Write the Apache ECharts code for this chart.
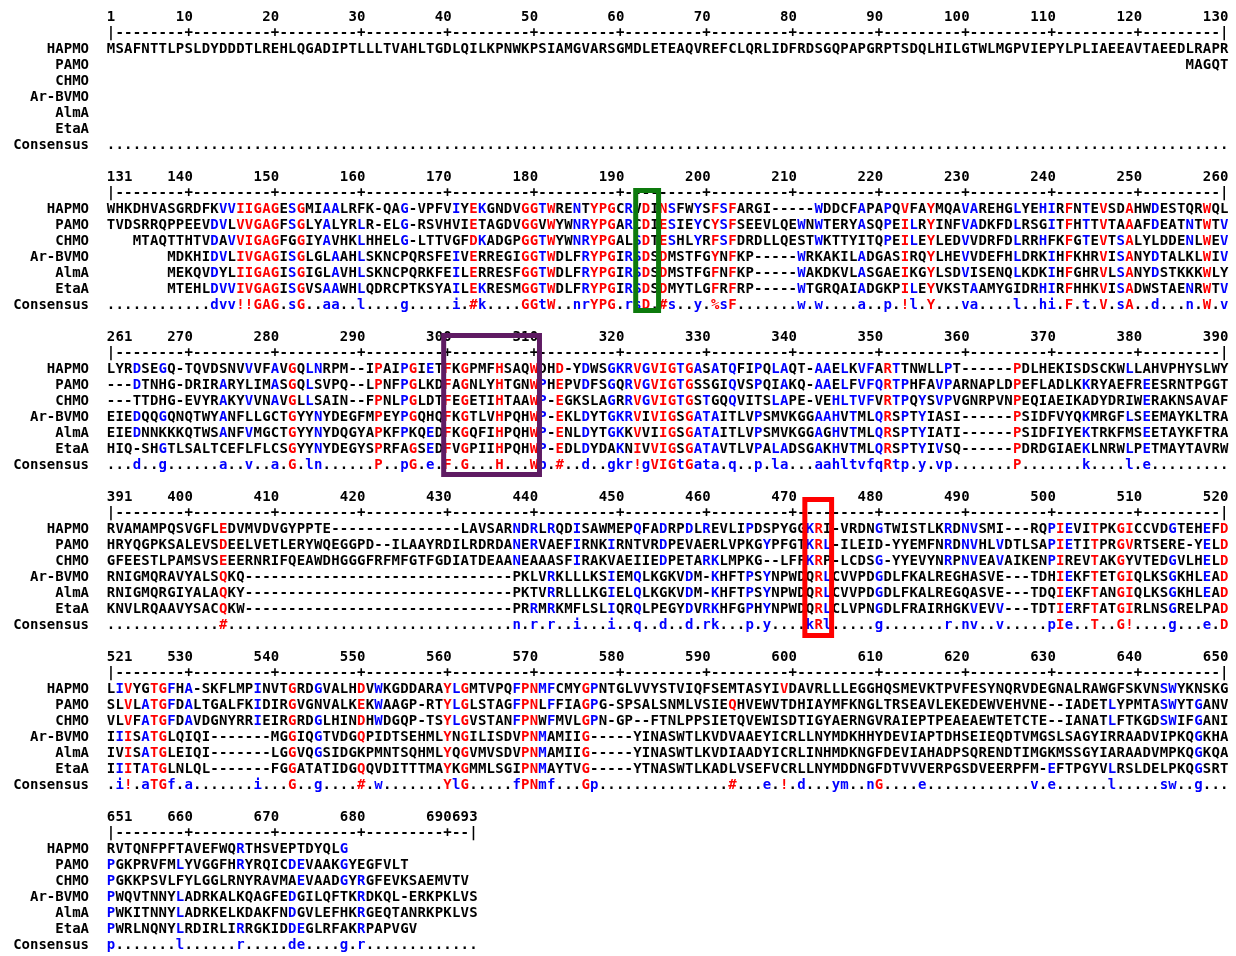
<!DOCTYPE html>
<html>
<head>
<meta charset="utf-8">
<title>Multiple sequence alignment of Baeyer-Villiger monooxygenases</title>
<script src="https://cdn.jsdelivr.net/npm/echarts/dist/echarts.min.js"></script>
<style>
  html, body { margin: 0; padding: 0; background: #ffffff; }
  #chart { width: 1236px; height: 956px; }
</style>
</head>
<body>
<div id="chart"></div>
<script>
// ---- Alignment data -------------------------------------------------------
// Six blocks of (up to) 130 alignment columns each.
const blockStarts = [1, 131, 261, 391, 521, 651];

const rulerLabels = [
  [1, 10, 20, 30, 40, 50, 60, 70, 80, 90, 100, 110, 120, 130],
  [131, 140, 150, 160, 170, 180, 190, 200, 210, 220, 230, 240, 250, 260],
  [261, 270, 280, 290, 300, 310, 320, 330, 340, 350, 360, 370, 380, 390],
  [391, 400, 410, 420, 430, 440, 450, 460, 470, 480, 490, 500, 510, 520],
  [521, 530, 540, 550, 560, 570, 580, 590, 600, 610, 620, 630, 640, 650],
  [651, 660, 670, 680, 690, 693]
];

const seqNames = ['HAPMO', 'PAMO', 'CHMO', 'Ar-BVMO', 'AlmA', 'EtaA'];

// Leading blanks before a sequence starts inside a block.
function lead(n, s) { return ' '.repeat(n) + s; }

const HAPMO = [
  'MSAFNTTLPSLDYDDDTLREHLQGADIPTLLLTVAHLTGDLQILKPNWKPSIAMGVARSGMDLETEAQVREFCLQRLIDFRDSGQPAPGRPTSDQLHILGTWLMGPVIEPYLPLIAEEAVTAEEDLRAPR',
  'WHKDHVASGRDFKVVIIGAGESGMIAALRFK-QAG-VPFVIYEKGNDVGGTWRENTYPGCRVDINSFWYSFSFARGI-----WDDCFAPAPQVFAYMQAVAREHGLYEHIRFNTEVSDAHWDESTQRWQL',
  'LYRDSEGQ-TQVDSNVVVFAVGQLNRPM--IPAIPGIETFKGPMFHSAQWDHD-YDWSGKRVGVIGTGASATQFIPQLAQT-AAELKVFARTTNWLLPT------PDLHEKISDSCKWLLAHVPHYSLWY',
  'RVAMAMPQSVGFLEDVMVDVGYPPTE---------------LAVSARNDRLRQDISAWMEPQFADRPDLREVLIPDSPYGGKRI-VRDNGTWISTLKRDNVSMI---RQPIEVITPKGICCVDGTEHEFD',
  'LIVYGTGFHA-SKFLMPINVTGRDGVALHDVWKGDDARAYLGMTVPQFPNMFCMYGPNTGLVVYSTVIQFSEMTASYIVDAVRLLLEGGHQSMEVKTPVFESYNQRVDEGNALRAWGFSKVNSWYKNSKG',
  'RVTQNFPFTAVEFWQRTHSVEPTDYQLG'
];

const PAMO = [
  lead(125, 'MAGQT'),
  'TVDSRRQPPEEVDVLVVGAGFSGLYALYRLR-ELG-RSVHVIETAGDVGGVWYWNRYPGARCDIESIEYCYSFSEEVLQEWNWTERYASQPEILRYINFVADKFDLRSGITFHTTVTAAAFDEATNTWTV',
  '---DTNHG-DRIRARYLIMASGQLSVPQ--LPNFPGLKDFAGNLYHTGNWPHEPVDFSGQRVGVIGTGSSGIQVSPQIAKQ-AAELFVFQRTPHFAVPARNAPLDPEFLADLKKRYAEFREESRNTPGGT',
  'HRYQGPKSALEVSDEELVETLERYWQEGGPD--ILAAYRDILRDRDANERVAEFIRNKIRNTVRDPEVAERLVPKGYPFGTKRL-ILEID-YYEMFNRDNVHLVDTLSAPIETITPRGVRTSERE-YELD',
  'SLVLATGFDALTGALFKIDIRGVGNVALKEKWAAGP-RTYLGLSTAGFPNLFFIAGPG-SPSALSNMLVSIEQHVEWVTDHIAYMFKNGLTRSEAVLEKEDEWVEHVNE--IADETLYPMTASWYTGANV',
  'PGKPRVFMLYVGGFHRYRQICDEVAAKGYEGFVLT'
];

const CHMO = [
  '',
  lead(3, 'MTAQTTHTVDAVVIGAGFGGIYAVHKLHHELG-LTTVGFDKADGPGGTWYWNRYPGALSDTESHLYRFSFDRDLLQESTWKTTYITQPEILEYLEDVVDRFDLRRHFKFGTEVTSALYLDDENLWEV'),
  '---TTDHG-EVYRAKYVVNAVGLLSAIN--FPNLPGLDTFEGETIHTAAWP-EGKSLAGRRVGVIGTGSTGQQVITSLAPE-VEHLTVFVRTPQYSVPVGNRPVNPEQIAEIKADYDRIWERAKNSAVAF',
  'GFEESTLPAMSVSEEERNRIFQEAWDHGGGFRFMFGTFGDIATDEAANEAAASFIRAKVAEIIEDPETARKLMPKG--LFFKRP-LCDSG-YYEVYNRPNVEAVAIKENPIREVTAKGYVTEDGVLHELD',
  'VLVFATGFDAVDGNYRRIEIRGRDGLHINDHWDGQP-TSYLGVSTANFPNWFMVLGPN-GP--FTNLPPSIETQVEWISDTIGYAERNGVRAIEPTPEAEAEWTETCTE--IANATLFTKGDSWIFGANI',
  'PGKKPSVLFYLGGLRNYRAVMAEVAADGYRGFEVKSAEMVTV'
];

const ArBVMO = [
  '',
  lead(7, 'MDKHIDVLIVGAGISGLGLAAHLSKNCPQRSFEIVERREGIGGTWDLFRYPGIRSDSDMSTFGYNFKP-----WRKAKILADGASIRQYLHEVVDEFHLDRKIHFKHRVISANYDTALKLWIV'),
  'EIEDQQGQNQTWYANFLLGCTGYYNYDEGFMPEYPGQHQFKGTLVHPQHWP-EKLDYTGKRVIVIGSGATAITLVPSMVKGGAAHVTMLQRSPTYIASI------PSIDFVYQKMRGFLSEEMAYKLTRA',
  'RNIGMQRAVYALSQKQ-------------------------------PKLVRKLLLKSIEMQLKGKVDM-KHFTPSYNPWDQRLCVVPDGDLFKALREGHASVE---TDHIEKFTETGIQLKSGKHLEAD',
  'IIISATGLQIQI-------MGGIQGTVDGQPIDTSEHMLYNGILISDVPNMAMIIG-----YINASWTLKVDVAAEYICRLLNYMDKHHYDEVIAPTDHSEIEQDTVMGSLSAGYIRRAADVIPKQGKHA',
  'PWQVTNNYLADRKALKQAGFEDGILQFTKRDKQL-ERKPKLVS'
];

const AlmA = [
  '',
  lead(7, 'MEKQVDYLIIGAGISGIGLAVHLSKNCPQRKFEILERRESFGGTWDLFRYPGIRSDSDMSTFGFNFKP-----WAKDKVLASGAEIKGYLSDVISENQLKDKIHFGHRVLSANYDSTKKKWLY'),
  'EIEDNNKKKQTWSANFVMGCTGYYNYDQGYAPKFPKQEDFKGQFIHPQHWP-ENLDYTGKKVVIIGSGATAITLVPSMVKGGAGHVTMLQRSPTYIATI------PSIDFIYEKTRKFMSEETAYKFTRA',
  'RNIGMQRGIYALAQKY-------------------------------PKTVRRLLLKGIELQLKGKVDM-KHFTPSYNPWDQRLCVVPDGDLFKALREGQASVE---TDQIEKFTANGIQLKSGKHLEAD',
  'IVISATGLEIQI-------LGGVQGSIDGKPMNTSQHMLYQGVMVSDVPNMAMIIG-----YINASWTLKVDIAADYICRLINHMDKNGFDEVIAHADPSQRENDTIMGKMSSGYIARAADVMPKQGKQA',
  'PWKITNNYLADRKELKDAKFNDGVLEFHKRGEQTANRKPKLVS'
];

const EtaA = [
  '',
  lead(7, 'MTEHLDVVIVGAGISGVSAAWHLQDRCPTKSYAILEKRESMGGTWDLFRYPGIRSDSDMYTLGFRFRP-----WTGRQAIADGKPILEYVKSTAAMYGIDRHIRFHHKVISADWSTAENRWTV'),
  'HIQ-SHGTLSALTCEFLFLCSGYYNYDEGYSPRFAGSEDFVGPIIHPQHWP-EDLDYDAKNIVVIGSGATAVTLVPALADSGAKHVTMLQRSPTYIVSQ------PDRDGIAEKLNRWLPETMAYTAVRW',
  'KNVLRQAAVYSACQKW-------------------------------PRRMRKMFLSLIQRQLPEGYDVRKHFGPHYNPWDQRLCLVPNGDLFRAIRHGKVEVV---TDTIERFTATGIRLNSGRELPAD',
  'IIITATGLNLQL-------FGGATATIDGQQVDITTTMAYKGMMLSGIPNMAYTVG-----YTNASWTLKADLVSEFVCRLLNYMDDNGFDTVVVERPGSDVEERPFM-EFTPGYVLRSLDELPKQGSRT',
  'PWRLNQNYLRDIRLIRRGKIDDEGLRFAKRPAPVGV'
];

const consensus = [
  '..................................................................................................................................',
  '............dvv!!GAG.sG..aa..l....g.....i.#k....GGtW..nrYPG.rsD.#s..y.%sF.......w.w....a..p.!l.Y...va....l..hi.F.t.V.sA..d...n.W.v',
  '...d..g......a..v..a.G.ln......P..pG.e.F.G...H...Wp.#..d..gkr!gVIGtGata.q..p.la...aahltvfqRtp.y.vp.......P.......k....l.e.........',
  '.............#.................................n.r.r..i...i..q..d..d.rk...p.y....kRl.....g.......r.nv..v.....pIe..T..G!....g...e.D',
  '.i!.aTGf.a.......i...G..g....#.w.......YlG.....fPNmf...Gp...............#...e.!.d...ym..nG....e............v.e......l.....sw..g...',
  'p.......l......r.....de....g.r.............'
];

// Boxed regions: alignment column edges and block-relative line edges.
const highlights = [
  { block: 1, left: 191.8, right: 194.45, top: 0.84, bottom: 8.34, color: '#0d7a0d' },
  { block: 2, left: 299.55, right: 310.65, top: -0.1, bottom: 8.6, color: '#5f1b63' },
  { block: 3, left: 471.4, right: 474.5, top: 0.16, bottom: 8.66, color: '#ff0000' }
];

// ---- Layout and styling ---------------------------------------------------
const LINES_PER_BLOCK = 10;        // ruler, bar, 6 sequences, consensus, gap
const NAME_COL = -1.55;            // right edge of the row names
const FONT = 'bold 14px "DejaVu Sans Mono", "Liberation Mono", monospace';
const RED = '#ff0000', BLUE = '#0000ff', BLACK = '#000000';
const SYMBOL_SETS = { '!': 'IV', '$': 'LM', '%': 'FY', '#': 'NDQEBZ' };

function residueColor(ch, c) {
  if (!c || c === '.' || ch === '-' || ch === ' ') return BLACK;
  if (SYMBOL_SETS[c]) return SYMBOL_SETS[c].indexOf(ch) >= 0 ? RED : BLACK;
  if (c === c.toUpperCase()) return ch === c ? RED : BLACK;
  return ch === c.toUpperCase() ? BLUE : BLACK;
}
function consensusColor(c) {
  if (c === '.') return BLACK;
  if (SYMBOL_SETS[c]) return RED;
  return c === c.toUpperCase() ? RED : BLUE;
}

// Build one text row per drawn line.
const rows = [];
const seqRows = [HAPMO, PAMO, CHMO, ArBVMO, AlmA, EtaA];
blockStarts.forEach((start, b) => {
  const base = b * LINES_PER_BLOCK;
  const labels = rulerLabels[b];
  const last = labels[labels.length - 1];
  // ruler numbers
  const numCells = [];
  labels.forEach((n, i) => {
    const s = String(n);
    const col = n - start + 1;
    const first = i === 0 ? col : col - s.length + 1;
    for (let k = 0; k < s.length; k++) numCells.push({ col: first + k, ch: s[k], color: BLACK });
  });
  rows.push({ line: base, cells: numCells });
  // ruler bar
  const barCells = [];
  for (let n = start; n <= last; n++) {
    let ch = '-';
    if (n === start || n === last) ch = '|';
    else if (labels.indexOf(n) >= 0) ch = '+';
    barCells.push({ col: n - start + 1, ch: ch, color: BLACK });
  }
  rows.push({ line: base + 1, cells: barCells });
  // sequences
  const cons = consensus[b];
  seqRows.forEach((seq, r) => {
    const text = seq[b];
    const cells = [];
    for (let i = 0; i < text.length; i++) {
      const ch = text[i];
      if (ch === ' ') continue;
      cells.push({ col: i + 1, ch: ch, color: residueColor(ch, cons[i]) });
    }
    rows.push({ line: base + 2 + r, cells: cells, name: seqNames[r] });
  });
  // consensus
  const cCells = [];
  for (let i = 0; i < cons.length; i++) cCells.push({ col: i + 1, ch: cons[i], color: consensusColor(cons[i]) });
  rows.push({ line: base + 8, cells: cCells, name: 'Consensus' });
});

const chart = echarts.init(document.getElementById('chart'), null, { renderer: 'canvas' });

chart.setOption({
  backgroundColor: '#ffffff',
  animation: false,
  grid: { left: 111, top: 17, width: 129 * 8.63, height: 58 * 16 },
  xAxis: { type: 'value', min: 1, max: 130, show: false },
  yAxis: { type: 'value', min: 0, max: 58, inverse: true, show: false },
  series: [
    {
      type: 'custom',
      silent: true,
      clip: false,
      data: rows.map(r => [1, r.line]),
      encode: { x: 0, y: 1 },
      renderItem: function (params, api) {
        const row = rows[params.dataIndex];
        const children = [];
        if (row.name) {
          const p = api.coord([NAME_COL, row.line]);
          children.push({
            type: 'text', x: p[0], y: p[1],
            style: { text: row.name, fill: BLACK, font: FONT, align: 'right', verticalAlign: 'middle' }
          });
        }
        row.cells.forEach(cell => {
          const p = api.coord([cell.col, row.line]);
          children.push({
            type: 'text', x: p[0], y: p[1],
            style: { text: cell.ch, fill: cell.color, font: FONT, align: 'center', verticalAlign: 'middle' }
          });
        });
        return { type: 'group', children: children };
      }
    },
    {
      type: 'custom',
      silent: true,
      clip: false,
      data: highlights.map(h => [h.left, h.block * LINES_PER_BLOCK + h.top]),
      encode: { x: 0, y: 1 },
      renderItem: function (params, api) {
        const h = highlights[params.dataIndex];
        const start = blockStarts[h.block];
        const base = h.block * LINES_PER_BLOCK;
        const p0 = api.coord([h.left - start + 1, base + h.top]);
        const p1 = api.coord([h.right - start + 1, base + h.bottom]);
        return {
          type: 'rect',
          shape: { x: p0[0], y: p0[1], width: p1[0] - p0[0], height: p1[1] - p0[1] },
          style: { fill: 'none', stroke: h.color, lineWidth: 5 }
        };
      }
    }
  ]
});
</script>
</body>
</html>
